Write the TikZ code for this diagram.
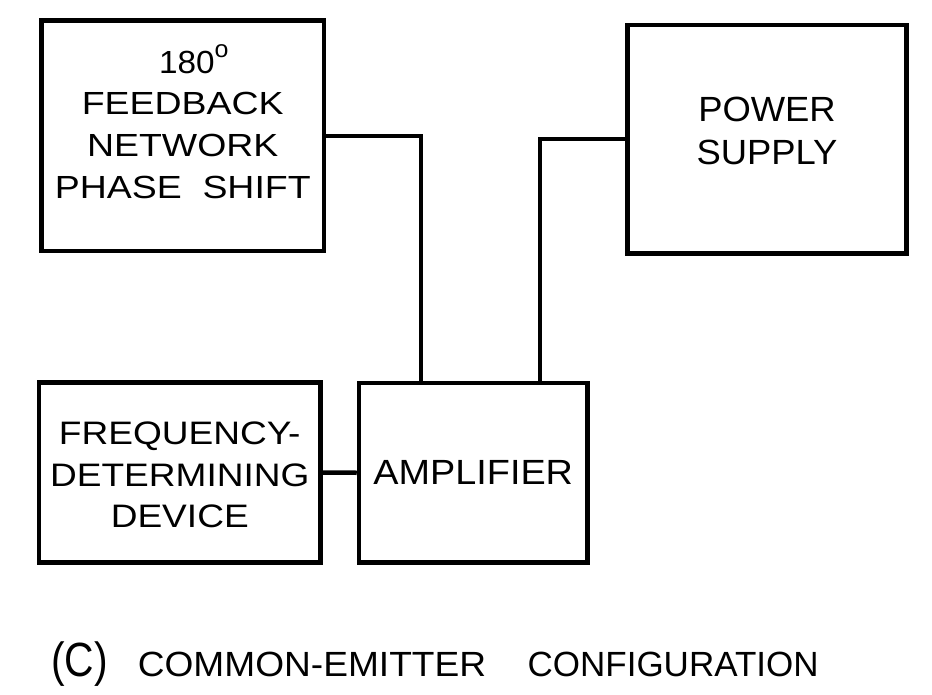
\documentclass[tikz,border=0pt]{standalone}
\usepackage{fontspec}
\usepackage{graphicx}
\setmainfont{Liberation Sans}
\newfontfamily\fbfont[FakeStretch=1.17]{Liberation Sans}
\newfontfamily\psfont[FakeStretch=1.04]{Liberation Sans}
\newfontfamily\fdfont[FakeStretch=1.14]{Liberation Sans}
\newfontfamily\ampfont[FakeStretch=1.08]{Liberation Sans}
\newfontfamily\capfont[FakeStretch=1.06]{Liberation Sans}
\newfontfamily\degfont[FakeStretch=1.04]{Liberation Sans}
\usetikzlibrary{calc}
\tikzset{
  blk/.style={draw=black, line width=4.5pt, rectangle, align=center, inner sep=0pt},
  wire/.style={draw=black, line width=4.5pt},
}
\begin{document}
\begin{tikzpicture}[x=1pt,y=-1pt]
\useasboundingbox[fill=white] (0,0) rectangle (932,694);
\node[blk, minimum width=282.5pt, minimum height=230.5pt,
  font=\fbfont\fontsize{32}{41.7}\selectfont]
  (fb) at (182.75,135.75)
  {\hspace*{22pt}{\degfont 180\raisebox{16pt}{\fontsize{24}{24}\selectfont o}}\\FEEDBACK\\NETWORK\\PHASE~~SHIFT\rule[-29pt]{0pt}{0pt}};
\node[blk, minimum width=278.6pt, minimum height=228.3pt,
  font=\psfont\fontsize{35}{43}\selectfont]
  (ps) at (767,139.2) {POWER\\SUPPLY\rule[-16.4pt]{0pt}{0pt}};
\node[blk, minimum width=281.5pt, minimum height=180pt,
  font=\fdfont\fontsize{32.5}{41.5}\selectfont]
  (fd) at (179.75,472.5) {\rule{0pt}{28pt}FREQUENCY-\\DETERMINING\\DEVICE};
\node[blk, minimum width=228.5pt, minimum height=179.5pt,
  font=\ampfont\fontsize{35}{42}\selectfont]
  (amp) at (473.25,472.75) {AMPLIFIER};
\draw[wire] (fb.east) -| ([xshift=64pt]amp.north west);
\draw[wire] (ps.west) -| ([xshift=-50pt]amp.north east);
\draw[wire] (fd.east) -- (amp.west);
\node[anchor=base west, inner sep=0pt] (cap) at (51,676.7)
  {{\fontsize{48}{48}\selectfont\scalebox{0.85}[1]{(C)}}\hspace{30pt}{\capfont\fontsize{35}{35}\selectfont COMMON-EMITTER}\hspace{41.5pt}{\fontsize{35}{35}\selectfont CONFIGURATION}};
\end{tikzpicture}
\end{document}
